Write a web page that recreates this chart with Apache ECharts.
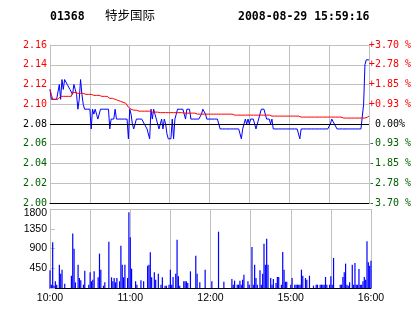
<!DOCTYPE html>
<html><head><meta charset="utf-8">
<script src="https://cdn.jsdelivr.net/npm/echarts@6/dist/echarts.min.js"></script>
<style>html,body{margin:0;padding:0;background:#fff}#c{width:414px;height:314px}</style>
</head><body><div id="c"></div>
<script>
// ---- data ----
const stockCode = '01368';
const stockName = '特步国际';
const timestamp = '2008-08-29 15:59:16';
const prevClose = 2.08;
const priceMin = 2.00, priceMax = 2.16, priceStep = 0.02;
const pctLabels = ['-3.70 %','-2.78 %','-1.85 %','-0.93 %','0.00%','+0.93 %','+1.85 %','+2.78 %','+3.70 %'];
const timeLabels = ['10:00','','11:00','','12:00','','15:00','','16:00'];
const volMax = 1800, volStep = 450;
// one value per trading minute (10:00-12:30, 14:30-16:00)
const price = [
2.115,2.105,2.105,2.105,2.105,2.105,2.105,2.12,2.105,2.125,
2.115,2.125,2.125,2.12,2.12,2.115,2.115,2.11,2.12,2.115,
2.11,2.095,2.105,2.125,2.11,2.10,2.095,2.095,2.095,2.095,
2.095,2.075,2.095,2.09,2.095,2.09,2.085,2.085,2.095,2.095,
2.095,2.095,2.095,2.095,2.095,2.075,2.085,2.085,2.085,2.095,
2.085,2.085,2.085,2.085,2.085,2.085,2.085,2.085,2.085,2.065,
2.095,2.09,2.08,2.075,2.08,2.085,2.085,2.085,2.085,2.085,
2.085,2.08,2.08,2.075,2.075,2.065,2.095,2.085,2.095,2.09,
2.085,2.08,2.075,2.08,2.085,2.075,2.085,2.08,2.07,2.065,
2.065,2.065,2.085,2.065,2.085,2.09,2.095,2.095,2.095,2.095,
2.095,2.095,2.085,2.095,2.095,2.095,2.085,2.085,2.085,2.085,
2.085,2.085,2.085,2.085,2.09,2.095,2.095,2.09,2.085,2.085,
2.085,2.085,2.085,2.085,2.085,2.085,2.085,2.08,2.075,2.075,
2.075,2.075,2.075,2.075,2.075,2.075,2.075,2.075,2.075,2.075,
2.075,2.075,2.075,2.075,2.065,2.075,2.08,2.085,2.08,2.085,
2.08,2.085,2.085,2.085,2.08,2.075,2.08,2.085,2.09,2.095,
2.095,2.095,2.09,2.085,2.085,2.085,2.08,2.085,2.075,2.075,
2.075,2.075,2.075,2.075,2.075,2.075,2.075,2.075,2.075,2.075,
2.075,2.075,2.075,2.075,2.075,2.075,2.075,2.075,2.065,2.075,
2.075,2.075,2.075,2.075,2.075,2.075,2.075,2.075,2.075,2.075,
2.075,2.075,2.075,2.075,2.075,2.075,2.075,2.075,2.075,2.075,
2.075,2.08,2.085,2.085,2.08,2.08,2.075,2.075,2.075,2.075,
2.075,2.075,2.075,2.075,2.075,2.075,2.075,2.075,2.075,2.075,
2.075,2.075,2.075,2.075,2.075,2.075,2.10,2.14,2.145,2.145,
2.145];
const avgPrice = [
2.115,2.11,2.105,2.105,2.105,2.105,2.105,2.105,2.108,2.108,
2.108,2.108,2.108,2.108,2.108,2.108,2.108,2.112,2.112,2.112,
2.112,2.111,2.111,2.111,2.111,2.111,2.110,2.110,2.110,2.110,
2.110,2.110,2.109,2.109,2.109,2.109,2.109,2.109,2.108,2.108,
2.108,2.108,2.108,2.108,2.108,2.106,2.106,2.106,2.105,2.105,
2.104,2.104,2.103,2.103,2.102,2.102,2.102,2.101,2.101,2.097,
2.095,2.095,2.094,2.094,2.094,2.094,2.094,2.093,2.093,2.093,
2.093,2.093,2.093,2.093,2.093,2.093,2.092,2.092,2.092,2.092,
2.092,2.092,2.092,2.0915,2.0915,2.0915,2.0915,2.0915,2.0915,2.0915,
2.0915,2.0915,2.0915,2.0915,2.0915,2.0915,2.0915,2.0915,2.0915,2.0915,
2.0915,2.091,2.091,2.091,2.091,2.091,2.091,2.091,2.091,2.091,
2.091,2.090,2.090,2.090,2.090,2.090,2.090,2.090,2.090,2.090,
2.090,2.090,2.090,2.090,2.090,2.090,2.090,2.090,2.090,2.090,
2.090,2.090,2.090,2.090,2.090,2.090,2.090,2.090,2.089,2.089,
2.089,2.089,2.089,2.089,2.089,2.089,2.089,2.089,2.089,2.089,
2.089,2.089,2.089,2.089,2.089,2.089,2.089,2.089,2.089,2.089,
2.089,2.089,2.089,2.089,2.089,2.089,2.089,2.088,2.088,2.088,
2.088,2.088,2.088,2.088,2.088,2.088,2.088,2.088,2.088,2.088,
2.088,2.088,2.088,2.088,2.088,2.088,2.088,2.088,2.087,2.087,
2.087,2.087,2.087,2.087,2.087,2.087,2.087,2.087,2.087,2.087,
2.087,2.087,2.087,2.087,2.087,2.087,2.087,2.087,2.087,2.087,
2.087,2.087,2.087,2.087,2.087,2.087,2.087,2.087,2.087,2.087,
2.086,2.086,2.086,2.086,2.086,2.086,2.086,2.086,2.086,2.086,
2.086,2.086,2.086,2.086,2.086,2.086,2.086,2.086,2.086,2.087,
2.088];
const volume = [
403,76,1041,53,152,76,0,532,327,418,
0,99,0,0,0,0,281,1239,897,129,
0,532,228,175,0,76,395,0,0,76,
357,152,190,380,0,0,243,783,418,0,
53,129,0,0,1056,0,243,152,228,129,
228,0,152,965,532,243,532,0,228,1725,
1155,441,0,0,152,76,0,0,175,0,
152,0,0,509,532,813,243,0,357,190,
0,327,0,76,243,0,53,53,0,76,
418,76,251,0,327,1102,266,53,0,0,
152,152,152,114,0,380,0,0,0,737,
327,0,129,0,0,0,418,0,0,0,
0,152,0,0,0,0,1284,0,0,0,
144,0,0,0,0,0,205,76,167,0,
76,76,167,76,190,304,0,0,152,76,
0,935,76,532,228,76,0,403,76,327,
1011,532,1125,532,0,228,76,205,0,114,
251,251,0,76,821,418,144,144,0,0,
76,228,0,76,76,76,76,76,418,281,
0,228,190,0,281,0,0,53,0,76,
76,0,76,76,76,76,251,76,0,76,
266,76,684,0,0,0,0,76,76,251,
357,555,76,53,129,0,532,76,570,76,
76,433,76,76,152,251,190,1064,585,509,
623];

// ---- chart ----
const RED = '#ff0000', GREEN = '#006000', BLACK = '#000000', GRID = '#c0c0c0';
const monoFont = 'DejaVu Sans Mono';
const sansFont = 'Liberation Sans';
function sideColor(v) {
  v = Number(v);
  if (v > prevClose + 1e-6) return RED;
  if (v < prevClose - 1e-6) return GREEN;
  return BLACK;
}
const priceData = price.map((p, i) => [i, p]);
const avgData = avgPrice.map((p, i) => [i, p]);
const volData = volume.map((v, i) => [i, v]);
const nMin = price.length - 1;

const chart = echarts.init(document.getElementById('c'), null, {renderer: 'canvas'});
chart.setOption({
  animation: false,
  backgroundColor: '#ffffff',
  graphic: [
    {type: 'text', left: 50, top: 11, style: {text: stockCode, font: 'bold 11.5px ' + monoFont, fill: '#000'}},
    {type: 'text', left: 105, top: 9, style: {text: stockName, font: '12.5px "Noto Sans CJK SC"', fill: '#000'}},
    {type: 'text', left: 238, top: 11, style: {text: timestamp, font: 'bold 11.5px ' + monoFont, fill: '#000'}}
  ],
  grid: [
    {left: 50, top: 45, width: 321, height: 158},
    {left: 50, top: 209, width: 321, height: 79}
  ],
  xAxis: [
    {type: 'value', gridIndex: 0, min: 0, max: nMin, interval: 30,
     axisLine: {lineStyle: {color: BLACK, width: 1}}, axisTick: {show: false}, axisLabel: {show: false},
     splitLine: {show: true, lineStyle: {color: GRID, width: 1}}},
    {type: 'value', gridIndex: 1, min: 0, max: nMin, interval: 30,
     axisLine: {lineStyle: {color: BLACK, width: 1}}, axisTick: {show: false},
     axisLabel: {show: true, margin: 5, color: '#000', fontFamily: sansFont, fontSize: 10.5,
       formatter: v => timeLabels[Math.round(v / 30)] || ''},
     splitLine: {show: true, lineStyle: {color: GRID, width: 1}}}
  ],
  yAxis: [
    {type: 'value', gridIndex: 0, min: priceMin, max: priceMax, interval: priceStep, position: 'left',
     axisLine: {show: true, lineStyle: {color: GRID}}, axisTick: {show: false},
     axisLabel: {margin: 3, fontFamily: monoFont, fontSize: 10,
       formatter: v => Number(v).toFixed(2), color: v => sideColor(v)},
     splitLine: {show: true, lineStyle: {color: GRID, width: 1}}},
    {type: 'value', gridIndex: 0, min: priceMin, max: priceMax, interval: priceStep, position: 'right',
     axisLine: {show: true, lineStyle: {color: GRID}}, axisTick: {show: false},
     axisLabel: {margin: 21, align: 'center', fontFamily: monoFont, fontSize: 10,
       formatter: v => pctLabels[Math.round((Number(v) - priceMin) / priceStep)] || '',
       color: v => sideColor(v)},
     splitLine: {show: false}},
    {type: 'value', gridIndex: 1, min: 0, max: volMax, interval: volStep, position: 'left',
     axisLine: {show: true, lineStyle: {color: GRID}},
     axisTick: {show: true, inside: true, length: 5, lineStyle: {color: GRID}},
     axisLabel: {margin: 3, color: '#000', fontFamily: sansFont, fontSize: 10.5,
       formatter: v => (v === 0 ? '' : (v === volMax ? '{t|' + v + '}' : String(v))),
       rich: {t: {fontFamily: sansFont, fontSize: 10.5, color: '#000', padding: [8, 0, 0, 0]}}},
     splitLine: {show: true, lineStyle: {color: ['transparent', 'transparent', 'transparent', 'transparent', GRID], width: 1}}}
  ],
  series: [
    {type: 'line', xAxisIndex: 0, yAxisIndex: 0, data: priceData, symbol: 'none',
     lineStyle: {color: '#0000ff', width: 1}, z: 3,
     markLine: {silent: true, symbol: 'none', label: {show: false},
       lineStyle: {color: BLACK, width: 1, type: 'solid'}, data: [{yAxis: prevClose}]}},
    {type: 'line', xAxisIndex: 0, yAxisIndex: 0, data: avgData, symbol: 'none',
     lineStyle: {color: '#ff0000', width: 1}, z: 4},
    {type: 'bar', xAxisIndex: 1, yAxisIndex: 2, data: volData, barWidth: 1.2,
     itemStyle: {color: '#0000ff'}, clip: false}
  ]
});
</script></body></html>
